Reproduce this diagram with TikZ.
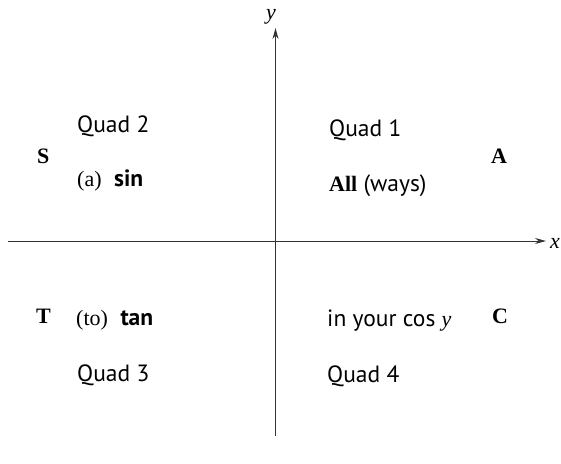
\documentclass[tikz,border=0pt]{standalone}
\usepackage{fontspec}
\setmainfont{Liberation Serif}
\setsansfont{PT Sans}
\usetikzlibrary{arrows.meta}
\begin{document}
\begin{tikzpicture}[x=1pt,y=-1pt,
  axis/.style={line width=0.9pt,draw=black!80,-{Stealth[length=11pt,width=6pt]}},
  lbl/.style={anchor=base west,inner sep=0pt,font=\fontsize{23.5}{27}\selectfont\sffamily},
  letter/.style={anchor=base west,inner sep=0pt,font=\fontsize{22}{26}\selectfont\rmfamily\bfseries},
  axlbl/.style={inner sep=0pt,font=\fontsize{22}{26}\selectfont\rmfamily\itshape}]
\useasboundingbox (0,0) rectangle (561,463);
\coordinate (xs) at (8,241);
\coordinate (xe) at (546,241);
\coordinate (ys) at (275.5,436);
\coordinate (ye) at (275.5,28);
\draw[axis] (xs) -- (xe);
\draw[axis] (ys) -- (ye);
\node[axlbl,anchor=base west] (xl) at (550,248) {x};
\node[axlbl,anchor=base] (yl) at (271,19) {y};
% Quadrant 2
\node[lbl] (q2) at (77,132) {Quad 2};
\node[letter] (S) at (37,163) {S};
\node[lbl] (sin) at (77,186) {{\fontsize{22}{26}\selectfont\rmfamily (a)}\ \ \textbf{sin}};
% Quadrant 1
\node[lbl] (q1) at (329,136) {Quad 1};
\node[letter] (A) at (491,163) {A};
\node[lbl] (all) at (329,191) {{\fontsize{22}{26}\selectfont\rmfamily\bfseries All} (ways)};
% Quadrant 3
\node[letter] (T) at (36,323) {T};
\node[lbl] (tan) at (76,325) {{\fontsize{22}{26}\selectfont\rmfamily (to)}\ \ \textbf{tan}};
\node[lbl] (q3) at (77,381) {Quad 3};
% Quadrant 4
\node[lbl] (cos) at (327,326) {in your cos {\fontsize{22}{26}\selectfont\rmfamily\itshape y}};
\node[letter] (C) at (492,323) {C};
\node[lbl] (q4) at (327,382) {Quad 4};
\end{tikzpicture}
\end{document}
